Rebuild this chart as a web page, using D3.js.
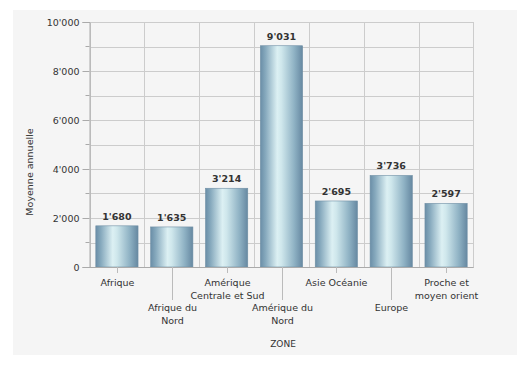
<!DOCTYPE html>
<html><head><meta charset="utf-8">
<script src="https://cdn.jsdelivr.net/npm/d3@7"></script>
<style>
html,body{margin:0;padding:0;background:#fff;}
text{font-family:"DejaVu Sans",sans-serif;}
</style></head>
<body>
<svg id="c" width="529" height="365"></svg>
<script>
const categories = ["Afrique","Afrique du Nord","Amérique Centrale et Sud","Amérique du Nord","Asie Océanie","Europe","Proche et moyen orient"];
const labelLines = [["Afrique"],["Afrique du","Nord"],["Amérique","Centrale et Sud"],["Amérique du","Nord"],["Asie Océanie"],["Europe"],["Proche et","moyen orient"]];
const values = [1680,1635,3214,9031,2695,3736,2597];
const yTicks = [0,2000,4000,6000,8000,10000];
const yMinor = [1000,3000,5000,7000,9000];
const xTitle = "ZONE";
const yTitle = "Moyenne annuelle";

const svg = d3.select("#c");
const L=89.5, R=473.5, T=22, B=267;
const fmt = v => d3.format(",")(v).replace(/,/g,"'");

svg.append("rect").attr("x",13).attr("y",10).attr("width",504).attr("height",345).attr("fill","#f5f5f5");

const defs = svg.append("defs");
const g = defs.append("linearGradient").attr("id","bg").attr("x1","0").attr("x2","1").attr("y1","0").attr("y2","0");
[[0,"#6a8ea7"],[0.12,"#86a9bd"],[0.4,"#dcf0f3"],[0.5,"#cfe7ec"],[0.8,"#8fb2c4"],[1,"#6688a1"]].forEach(s=>g.append("stop").attr("offset",s[0]).attr("stop-color",s[1]));

const x = d3.scaleBand().domain(categories).range([L,R]).paddingInner(0.23).paddingOuter(0.115);
const xb = d3.scaleBand().domain(categories).range([L,R]);
const y = d3.scaleLinear().domain([0,10000]).range([B,T]);

// grid
const grid = svg.append("g").attr("stroke","#cccccc").attr("stroke-width",1).attr("shape-rendering","crispEdges");
yTicks.concat(yMinor).forEach(v=>grid.append("line").attr("x1",L).attr("x2",R).attr("y1",Math.round(y(v))+0.5).attr("y2",Math.round(y(v))+0.5));
categories.forEach(c=>grid.append("line").attr("x1",Math.round(xb(c))+0.5).attr("x2",Math.round(xb(c))+0.5).attr("y1",T).attr("y2",B));
grid.append("line").attr("x1",R).attr("x2",R).attr("y1",T).attr("y2",B);

// y axis
const ya = svg.append("g").attr("transform",`translate(${L},0)`)
  .call(d3.axisLeft(y).tickValues(yTicks).tickFormat(fmt).tickSize(7).tickPadding(3));
ya.select(".domain").attr("stroke","#aaaaaa");
ya.selectAll(".tick line").attr("stroke","#aaaaaa");
ya.selectAll("text").attr("font-size","9.5px").attr("fill","#333");
yMinor.forEach(v=>svg.append("line").attr("x1",L-4).attr("x2",L).attr("y1",y(v)).attr("y2",y(v)).attr("stroke","#aaaaaa"));

// bars
svg.selectAll("rect.bar").data(values).enter().append("rect").attr("class","bar")
  .attr("x",(d,i)=>x(categories[i])).attr("width",x.bandwidth())
  .attr("y",d=>y(d)).attr("height",d=>B-y(d))
  .attr("fill","url(#bg)").attr("stroke","#6f8fa5").attr("stroke-width",0.6);

svg.selectAll("text.val").data(values).enter().append("text").attr("class","val")
  .attr("x",(d,i)=>x(categories[i])+x.bandwidth()/2).attr("y",d=>y(d)-6)
  .attr("text-anchor","middle").attr("font-size","9.5px").attr("font-weight","bold").attr("fill","#333")
  .text(fmt);

// x axis
svg.append("line").attr("x1",L).attr("x2",R).attr("y1",B+0.5).attr("y2",B+0.5).attr("stroke","#aaaaaa");
categories.forEach((c,i)=>{
  const cx = Math.round(xb(c)+xb.bandwidth()/2)+0.5;
  const longT = i%2===1;
  svg.append("line").attr("x1",cx).attr("x2",cx).attr("y1",B).attr("y2",longT?300:273).attr("stroke","#bbbbbb");
  const t = svg.append("text").attr("text-anchor","middle").attr("font-size","9.5px").attr("fill","#333");
  labelLines[i].forEach((ln,j)=>t.append("tspan").attr("x",cx).attr("y",(longT?311:286)+j*13).text(ln));
});

svg.append("text").attr("x",283).attr("y",347).attr("text-anchor","middle").attr("font-size","9px").attr("fill","#333").text(xTitle);
svg.append("text").attr("transform","translate(33,172) rotate(-90)").attr("text-anchor","middle").attr("font-size","9.5px").attr("fill","#333").text(yTitle);
</script>
</body></html>
